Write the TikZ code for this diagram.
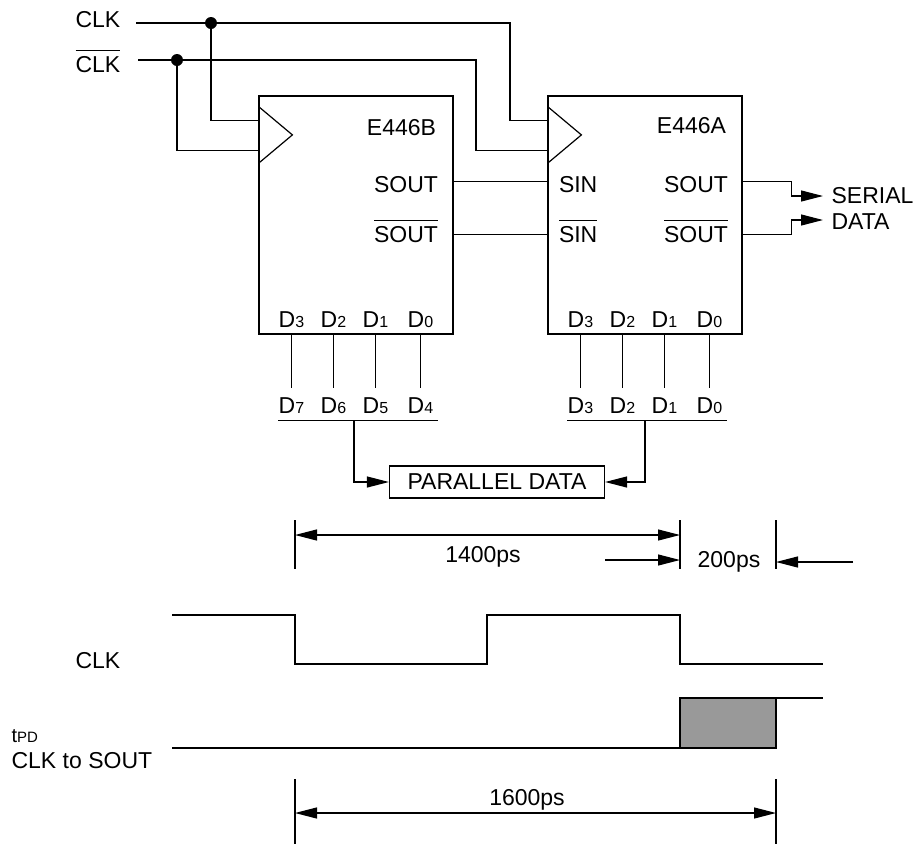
\documentclass[tikz,border=0pt]{standalone}
\usepackage{fontspec}
\setmainfont{Liberation Sans}
\usetikzlibrary{arrows.meta, positioning, calc}

\newcommand{\sub}[1]{{\fontsize{16}{16}\selectfont #1}}
\newcommand{\ovl}[1]{\setbox0=\hbox{#1}\rlap{\rule[\dimexpr\ht0+5pt\relax]{\wd0}{1.2pt}}\box0}

\begin{document}
\begin{tikzpicture}[
            x=1pt, y=-1pt,
            line width=1.2pt,
            every node/.style={inner sep=0pt, font=\fontsize{23}{27}\selectfont},
            chip/.style={draw, minimum width=194pt, minimum height=238pt},
            box/.style={draw, minimum width=215pt, minimum height=32pt},
            dot/.style={circle, fill, minimum size=12pt},
            arr/.style={-{Triangle[length=22pt, width=11pt]}},
            dim/.style={{Triangle[length=22pt, width=11pt]}-{Triangle[length=22pt, width=11pt]}}
        ]
        \useasboundingbox (0,0) rectangle (914,844);

        % Nodes
        \node[chip] (B) at (356,215) {};
        \node[chip] (A) at (645,215) {};
        \node[box] (pd) at (497,482) {PARALLEL DATA};

        \node[anchor=base east] (Bname) at ($(B.north east)+(-17,40)$) {E446B};
        \node[anchor=base east] (Bsout) at ($(B.north east)+(-15,97)$) {SOUT};
        \node[anchor=base east] (Bsoutn) at ($(B.north east)+(-15,147)$) {\ovl{SOUT}};
        \node[anchor=base east] (Aname) at ($(A.north east)+(-16,38)$) {E446A};
        \node[anchor=base east] (Asout) at ($(A.north east)+(-14,97)$) {SOUT};
        \node[anchor=base east] (Asoutn) at ($(A.north east)+(-14,147)$) {\ovl{SOUT}};
        \node[anchor=base west] (Asin) at ($(A.north west)+(11,97)$) {SIN};
        \node[anchor=base west] (Asinn) at ($(A.north west)+(11,147)$) {\ovl{SIN}};

        \node[anchor=base west] (clk) at (75,27) {CLK};
        \node[anchor=base west] (clkn) at (75,72) {\ovl{CLK}};
        \node[anchor=base west] (serial) at (831,203) {SERIAL};
        \node[anchor=base west] (data) at (831,229) {DATA};

        % Clock inputs
        \foreach \c in {A,B} {
            \draw ($(\c.north west)+(0,11)$) -- ++(34,28.5) -- ++(-34,28.5);
            \coordinate (\c-ck1) at ($(\c.north west)+(0,25)$);
            \coordinate (\c-ck2) at ($(\c.north west)+(0,55)$);
        }

        % Data pins
        \foreach \c/\off in {B/4, A/0}
            \foreach \x/\n [count=\i] in {33/3, 75/2, 117/1, 162/0} {
                \coordinate (\c-p\i) at ($(\c.south west)+(\x,0)$);
                \node[anchor=base] (\c-d\i) at ($(\c-p\i)+(0,-7)$) {D\sub{\n}};
                \draw (\c-p\i) -- ++(0,53) coordinate (\c-q\i);
                \pgfmathtruncatemacro\k{\n+\off}
                \node[anchor=base] (\c-e\i) at ($(\c-q\i)+(0,26)$) {D\sub{\k}};
            }

        % Arrows
        \coordinate (clkin) at (136,23);
        \coordinate (clknin) at (138,60);
        \coordinate (j1) at (211,23);
        \coordinate (j2) at (177,60);
        \draw (clkin) -- (j1) -- ++(299,0) |- (A-ck1);
        \draw (clknin) -- (j2) -- ++(299,0) |- (A-ck2);
        \draw (j1) |- (B-ck1);
        \draw (j2) |- (B-ck2);
        \node[dot] (d1) at (j1) {};
        \node[dot] (d2) at (j2) {};

        \draw ($(B.north east)+(0,86)$) -- ($(A.north west)+(0,86)$);
        \draw ($(B.north east)+(0,139)$) -- ($(A.north west)+(0,139)$);
        \draw[arr] ($(A.north east)+(0,86)$) -- ++(49,0) |- ($(serial.base west)+(-8,-7)$);
        \draw[arr] ($(A.north east)+(0,139)$) -- ++(49,0) |- ($(data.base west)+(-8,-9)$);

        \foreach \c in {A,B} {
            \draw ($(\c.south west)+(20,86)$) -- ($(\c.south east)+(-16,86)$);
        }
        \draw[arr] ($(B.south)+(-2,86)$) |- (pd.west);
        \draw[arr] ($(A.south)+(0,86)$) |- (pd.east);

        % Timing
        \foreach \t in {295,680,776}
            \draw (\t,520) -- (\t,569);
        \foreach \t in {295,776}
            \draw (\t,779) -- (\t,844);
        \draw[dim] (295,535) -- (680,535);
        \draw[arr] (605,560) -- (680,560);
        \draw[arr] (853,562) -- (776,562);
        \draw[dim] (295,813) -- (776,813);
        \node[anchor=base] (t1400) at (483,562) {1400ps};
        \node[anchor=base] (t200) at (729,567) {200ps};
        \node[anchor=base] (t1600) at (527,805) {1600ps};

        \node[anchor=base west] (wclk) at (75,668) {CLK};
        \node[anchor=base west] (wtpd) at (11,742) {\fontsize{20}{20}\selectfont t{\fontsize{15}{15}\selectfont PD}};
        \node[anchor=base west] (wsout) at (11,768) {CLK to SOUT};

        \draw (172,615) -- (295,615) -- (295,664) -- (487,664) -- (487,615)
              -- (680,615) -- (680,664) -- (823,664);
        \draw[fill=black!40] (680,698) rectangle (776,748);
        \draw (172,748) -- (680,748);
        \draw (776,698) -- (823,698);
        \end{tikzpicture}
\end{document}
